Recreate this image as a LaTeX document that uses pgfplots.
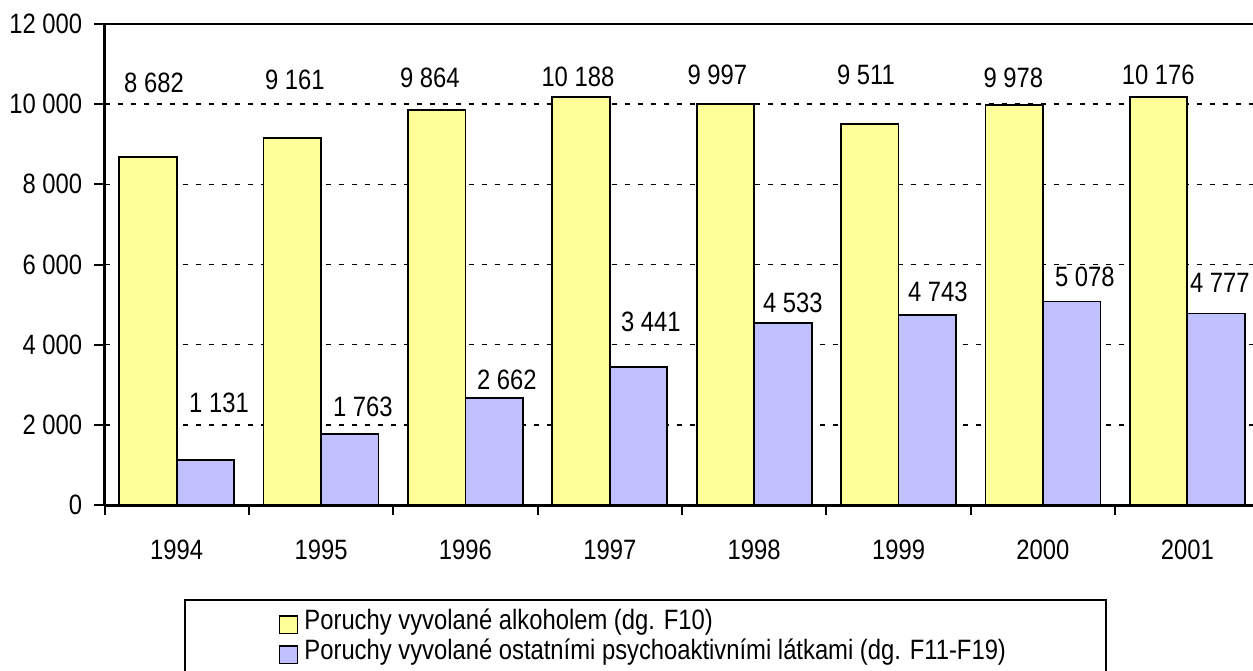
\documentclass[border=0pt]{standalone}
\usepackage{fontspec}
\setmainfont{Liberation Sans}[FakeStretch=0.85]
\usepackage{pgfplots}
\pgfplotsset{compat=1.18}
\definecolor{barY}{HTML}{FFFF99}
\definecolor{barB}{HTML}{C0C0FF}
\begin{document}
\begin{tikzpicture}[font=\fontsize{14}{17}\selectfont]
\useasboundingbox (-52.25pt,-82.5pt) rectangle (574.25pt,252.5pt);
\begin{axis}[
  at={(0,0)}, anchor=south west,
  scale only axis, width=577.5pt, height=240.5pt,
  xmin=-0.5, xmax=7.5, ymin=0, ymax=12000,
  axis lines*=left,
  axis line style={line width=1.5pt, black},
  ytick={0,2000,4000,6000,8000,10000},
  extra y ticks={12000},
  extra y tick style={grid=major, major grid style={solid, black, line width=1pt}},
  scaled y ticks=false,
  ymajorgrids,
  major grid style={black, line width=0.8pt, dash pattern=on 2.5pt off 4pt},
  xtick={0,...,7},
  xticklabels={1994,1995,1996,1997,1998,1999,2000,2001},
  major x tick style={draw=none},
  minor xtick={-0.5,0.5,...,7.5},
  tick align=outside, major tick length=5pt, minor tick length=5pt,
  tick style={black, line width=1pt},
  /pgf/number format/1000 sep={\ },
  /pgf/number format/assume math mode=true,
  yticklabel style={inner sep=0pt, anchor=east, xshift=-6pt},
  xticklabel style={inner sep=0pt, anchor=base, yshift=-22pt},
  legend style={at={(0.0688,-0.1954)}, anchor=north west, draw=black, line width=0.9pt,
    inner xsep=47pt, inner ysep=5pt, row sep=0pt, font=\fontsize{14}{17}\selectfont,
    nodes={inner xsep=3pt, inner ysep=0pt, text height=10pt, text depth=5pt}},
  legend cell align=left,
  legend image code/.code={\draw[#1, line width=0.8pt] (0pt,-4.3pt) rectangle (9pt,4.3pt);},
  clip=false,
]
\addplot[ybar, bar width=28.75pt, bar shift=-14.375pt, fill=barY, draw=black, line width=0.9pt]
  coordinates {(0,8682) (1,9161) (2,9864) (3,10188) (4,9997) (5,9511) (6,9978) (7,10176)};
\addlegendentry{Poruchy vyvolané alkoholem (dg. F10)}
\addplot[ybar, bar width=28.75pt, bar shift=14.375pt, fill=barB, draw=black, line width=0.9pt]
  coordinates {(0,1131) (1,1763) (2,2662) (3,3441) (4,4533) (5,4743) (6,5078) (7,4777)};
\addlegendentry{Poruchy vyvolané ostatními psychoaktivními látkami (dg. F11-F19)}
\addplot[draw=none, mark=none, forget plot, nodes near coords, point meta=explicit symbolic,
  nodes near coords style={anchor=center, inner sep=0pt}]
  coordinates {(-0.157,10540) [8 682] (0.819,10603) [9 161] (1.754,10653) [9 864]
    (2.779,10678) [10 188] (3.745,10728) [9 997] (4.774,10728) [9 511]
    (5.795,10653) [9 978] (6.799,10728) [10 176]};
\addplot[draw=none, mark=none, forget plot, nodes near coords, point meta=explicit symbolic,
  nodes near coords style={anchor=center, inner sep=0pt}]
  coordinates {(0.293,2545) [1 131] (1.290,2445) [1 763] (2.287,3119) [2 662]
    (3.284,4566) [3 441] (4.268,5040) [4 533] (5.272,5314) [4 743]
    (6.290,5688) [5 078] (7.225,5538) [4 777]};
\end{axis}
\end{tikzpicture}
\end{document}
